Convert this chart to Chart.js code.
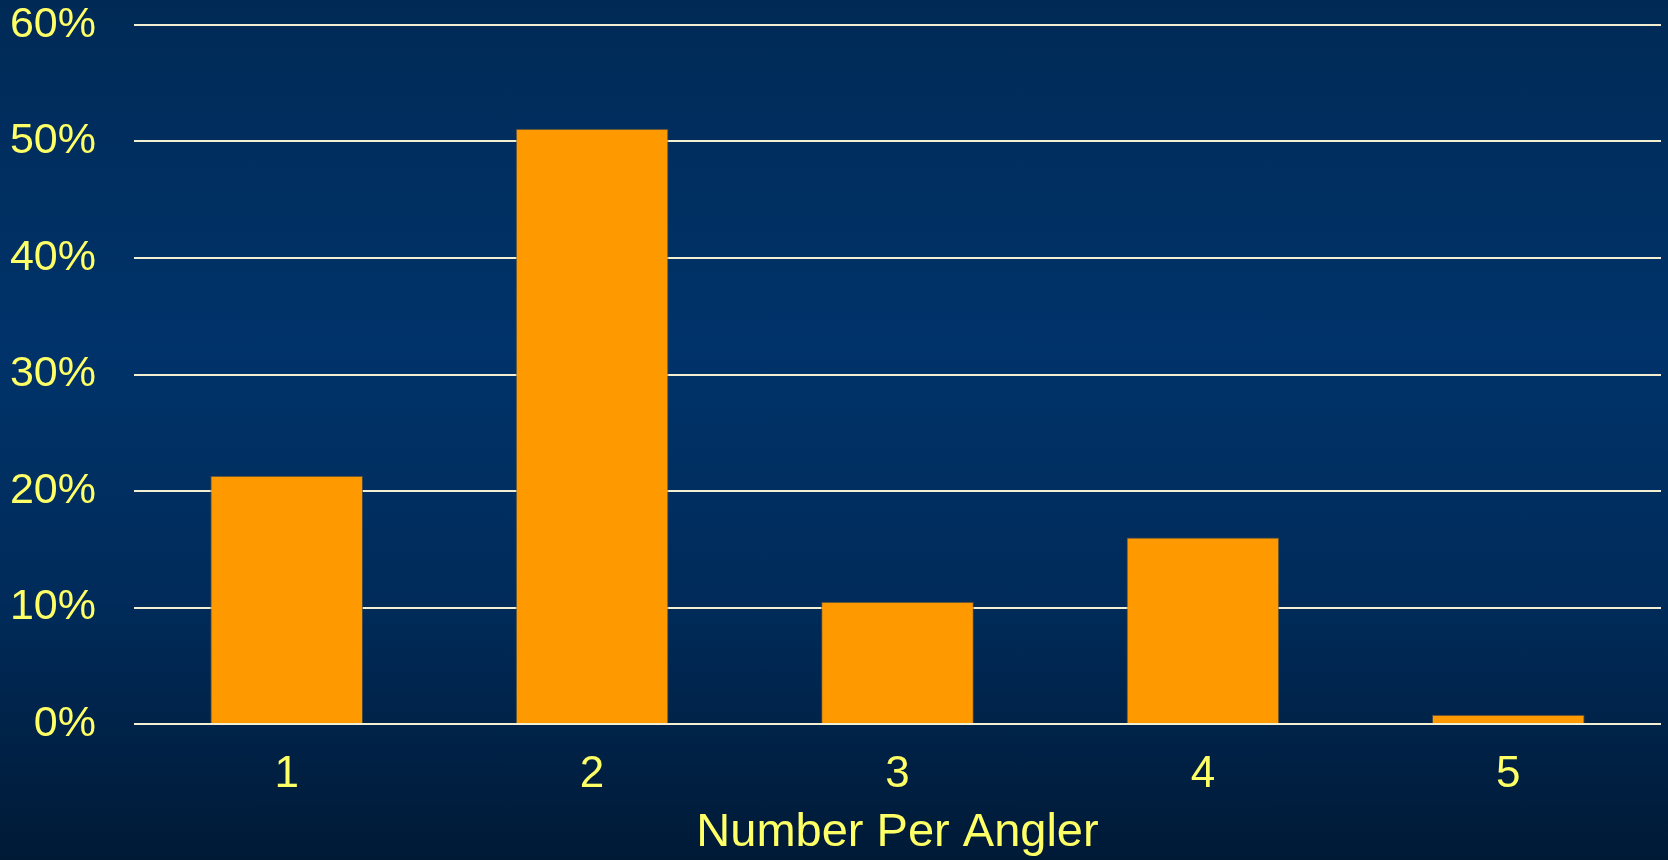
<!DOCTYPE html>
<html>
<head>
<meta charset="utf-8">
<script src="https://cdn.jsdelivr.net/npm/chart.js@4.4.1/dist/chart.umd.min.js"></script>
<style>
  html, body { margin: 0; padding: 0; }
  body {
    width: 1668px;
    height: 860px;
    overflow: hidden;
    background: linear-gradient(to bottom, #002a56 0%, #00336a 40%, #002b5a 70%, #001a36 100%);
  }
  #wrap { position: relative; width: 1668px; height: 860px; }
  canvas { display: block; }
</style>
</head>
<body>
<div id="wrap"><canvas id="chart" width="1668" height="860"></canvas></div>
<script>
// values (percent of anglers)
const categories = ["1", "2", "3", "4", "5"];
const shares = [21.3, 51.1, 10.5, 16.0, 0.8];
const yTicks = [0, 10, 20, 30, 40, 50, 60];
const xTitle = "Number Per Angler";

const YELLOW = "#ffff66";
const FONT = "'Liberation Sans', Arial, sans-serif";

new Chart(document.getElementById("chart"), {
    type: "bar",
    data: {
        labels: categories,
        datasets: [{
            data: shares,
            backgroundColor: "#ff9900",
            borderColor: "rgba(90, 80, 60, 0.8)",
            borderWidth: 1,
            borderSkipped: "bottom",
            barPercentage: 0.5,
            categoryPercentage: 1.0,
        }],
    },
    options: {
        responsive: false,
        animation: false,
        devicePixelRatio: 1,
        layout: { padding: { left: 0, right: 7, top: 0, bottom: 0 } },
        plugins: {
            legend: { display: false },
            tooltip: { enabled: false },
        },
        scales: {
            x: {
                grid: { display: false, drawTicks: false },
                border: { display: false },
                ticks: {
                    color: YELLOW,
                    padding: 24,
                    font: { family: FONT, size: 44 },
                },
                title: {
                    display: true,
                    text: xTitle,
                    color: YELLOW,
                    padding: { top: 0, bottom: 0 },
                    font: { family: FONT, size: 47, lineHeight: 1.15 },
                },
                afterFit(scale) {
                    scale.height = 136;
                },
            },
            y: {
                min: 0,
                max: 60,
                afterBuildTicks(scale) {
                    scale.ticks = yTicks.map((v) => ({ value: v }));
                },
                grid: {
                    color: "#f2efd2",
                    lineWidth: 2,
                    drawTicks: false,
                },
                border: { display: false },
                ticks: {
                    color: YELLOW,
                    padding: 38,
                    font: { family: FONT, size: 43 },
                    callback: (v) => v + "%",
                },
                afterFit(scale) {
                    // tick padding is only wanted sideways, not above the top label
                    scale.width = 134;
                    scale.paddingTop = 25;
                },
            },
        },
    },
});
</script>
</body>
</html>
